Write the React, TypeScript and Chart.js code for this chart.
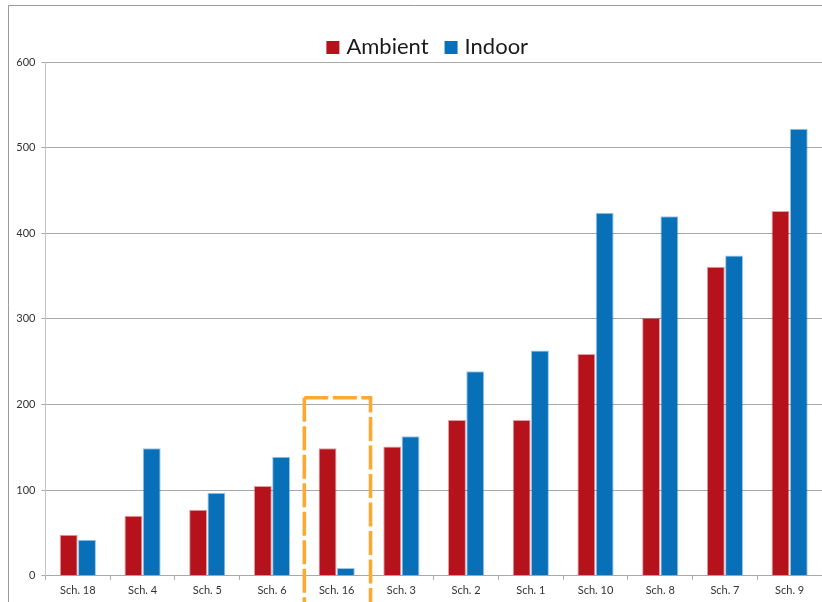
import React, { useEffect, useRef } from "react";
import { Chart, registerables, Plugin } from "chart.js";

Chart.register(...registerables);

const categories = [
  "Sch. 18", "Sch. 4", "Sch. 5", "Sch. 6", "Sch. 16", "Sch. 3",
  "Sch. 2", "Sch. 1", "Sch. 10", "Sch. 8", "Sch. 7", "Sch. 9",
];
const ambient = [48, 70, 77, 105, 149, 151, 182, 182, 259, 301, 361, 426];
const indoor = [42, 149, 97, 139, 9, 163, 239, 263, 424, 420, 374, 522];

// category outlined by the dashed box, and the value its top edge sits at
const highlightIndex = 4;
const highlightTop = 208;

const RED = "#B5121B";
const BLUE = "#0870B8";
const FONT = "Lato, 'Open Sans', sans-serif";

// thin grey frame around the whole figure
const framePlugin: Plugin = {
  id: "frame",
  beforeDraw(chart) {
    const { ctx, width, height } = chart;
    ctx.save();
    ctx.strokeStyle = "#9b9b9b";
    ctx.lineWidth = 1;
    ctx.beginPath();
    ctx.moveTo(8.5, height + 2);
    ctx.lineTo(8.5, 5.5);
    ctx.lineTo(width + 2, 5.5);
    ctx.stroke();
    ctx.restore();
  },
};

// legend row: square swatch followed by the series name
const legendPlugin: Plugin = {
  id: "topLegend",
  afterDraw(chart) {
    const { ctx, chartArea } = chart;
    const box = 13;
    const gapText = 7;
    const gapItem = 16;
    ctx.save();
    ctx.font = `22px ${FONT}`;
    const items = chart.data.datasets.map((ds) => ({
      text: String(ds.label),
      color: String(ds.backgroundColor),
      w: ctx.measureText(String(ds.label)).width,
    }));
    const total =
      items.reduce((s, it) => s + box + gapText + it.w, 0) +
      gapItem * (items.length - 1);
    const center = (chartArea.left + chartArea.right) / 2 - 6.5;
    const baseline = chartArea.top - 8;
    let x = center - total / 2;
    ctx.textBaseline = "alphabetic";
    ctx.textAlign = "left";
    for (const it of items) {
      ctx.fillStyle = it.color;
      ctx.fillRect(x, baseline - box, box, box);
      x += box + gapText;
      ctx.fillStyle = "#1a1a1a";
      ctx.fillText(it.text, x, baseline);
      x += it.w + gapItem;
    }
    ctx.restore();
  },
};

// dashed orange outline around one category
const highlightPlugin: Plugin = {
  id: "highlight",
  afterDatasetsDraw(chart) {
    const { ctx, scales, height } = chart;
    const xs = scales.x;
    const ys = scales.y;
    const step = xs.getPixelForValue(1) - xs.getPixelForValue(0);
    const cx = xs.getPixelForValue(highlightIndex);
    const left = cx - step / 2;
    const right = cx + step / 2 + 1.5;
    const top = ys.getPixelForValue(highlightTop);
    const bottom = height + 10;
    ctx.save();
    ctx.strokeStyle = "#FBA931";
    ctx.lineWidth = 3.6;
    ctx.setLineDash([24, 4.5]);
    ctx.beginPath();
    ctx.moveTo(left, top);
    ctx.lineTo(right, top);
    ctx.lineTo(right, bottom);
    ctx.stroke();
    ctx.beginPath();
    ctx.moveTo(left, top);
    ctx.lineTo(left, bottom);
    ctx.stroke();
    ctx.restore();
  },
};

export default function App() {
  const canvasRef = useRef<HTMLCanvasElement | null>(null);

  useEffect(() => {
    if (!canvasRef.current) return;
    const chart = new Chart(canvasRef.current, {
      type: "bar",
      data: {
        labels: categories,
        datasets: [
          {
            label: "Ambient",
            data: ambient,
            backgroundColor: RED,
            borderColor: "rgba(181,18,27,0.4)",
            borderWidth: 1,
            categoryPercentage: 0.565,
            barPercentage: 0.98,
          },
          {
            label: "Indoor",
            data: indoor,
            backgroundColor: BLUE,
            borderColor: "rgba(8,112,184,0.4)",
            borderWidth: 1,
            categoryPercentage: 0.565,
            barPercentage: 0.98,
          },
        ],
      },
      options: {
        animation: false,
        responsive: true,
        maintainAspectRatio: false,
        layout: { padding: { top: 62, left: 16.5, right: 0, bottom: 0 } },
        plugins: {
          legend: { display: false },
          tooltip: { enabled: false },
          title: { display: false },
        },
        scales: {
          x: {
            grid: {
              offset: true,
              drawOnChartArea: false,
              drawTicks: true,
              tickLength: 4,
              color: "#a8a8a8",
            },
            border: { display: true, color: "#a8a8a8", width: 1 },
            ticks: {
              color: "#333333",
              padding: 4.5,
              font: { family: FONT, size: 11 },
              maxRotation: 0,
              autoSkip: false,
            },
          },
          y: {
            min: 0,
            max: 600,
            afterFit(scale) {
              scale.width = 29;
            },
            ticks: {
              stepSize: 100,
              color: "#333333",
              padding: 6,
              font: { family: FONT, size: 11 },
            },
            grid: {
              color: "#a8a8a8",
              lineWidth: 1,
              tickLength: 4,
              drawTicks: true,
            },
            border: { display: true, color: "#c4c4c4", width: 1 },
          },
        },
      },
      plugins: [framePlugin, highlightPlugin, legendPlugin],
    });
    return () => chart.destroy();
  }, []);

  return (
    <div
      style={{
        position: "absolute",
        left: 0,
        top: 0,
        width: 822,
        height: 602,
        background: "#ffffff",
      }}
    >
      <canvas ref={canvasRef} />
    </div>
  );
}
